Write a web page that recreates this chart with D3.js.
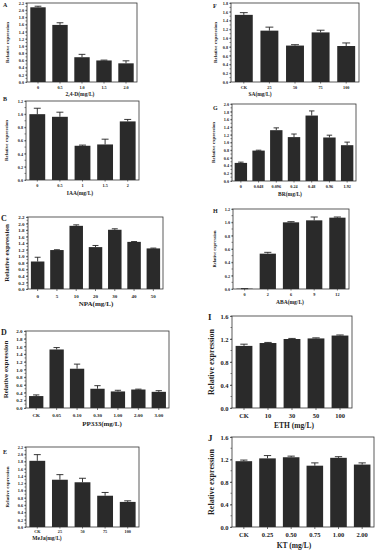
<!DOCTYPE html>
<html>
<head>
<meta charset="utf-8">
<script src="https://cdn.jsdelivr.net/npm/d3@7"></script>
<style>
  body { margin: 0; background: #fff; }
  svg { display: block; }
  text { font-family: "Liberation Serif", "DejaVu Serif", serif; font-weight: bold; fill: #222; }
</style>
</head>
<body>
<div id="chart"></div>
<script>
// values (relative expression, mean and upper error)
var aCats = ["0", "0.5", "1.0", "1.5", "2.0"];
var aVals = [2.08, 1.59, 0.69, 0.60, 0.52];
var aErr  = [0.03, 0.06, 0.08, 0.01, 0.07];

var bCats = ["0", "0.5", "1", "1.5", "2"];
var bVals = [1.00, 0.96, 0.52, 0.54, 0.89];
var bErr  = [0.09, 0.07, 0.01, 0.08, 0.03];

var cCats = ["0", "5", "10", "20", "30", "40", "50"];
var cVals = [0.84, 1.19, 1.93, 1.28, 1.81, 1.44, 1.24];
var cErr  = [0.13, 0.01, 0.03, 0.05, 0.03, 0.01, 0.01];

var dCats = ["CK", "0.05", "0.10", "0.30", "1.00", "2.00", "3.00"];
var dVals = [0.31, 1.52, 1.02, 0.50, 0.43, 0.48, 0.42];
var dErr  = [0.03, 0.05, 0.12, 0.08, 0.03, 0.01, 0.03];

var eCats = ["CK", "25", "50", "75", "100"];
var eVals = [1.82, 1.30, 1.23, 0.86, 0.69];
var eErr  = [0.17, 0.14, 0.11, 0.09, 0.03];

var fCats = ["CK", "25", "50", "75", "100"];
var fVals = [1.53, 1.17, 0.83, 1.13, 0.82];
var fErr  = [0.05, 0.08, 0.02, 0.05, 0.07];

var gCats = ["0", "0.048", "0.096", "0.24", "0.48", "0.96", "1.92"];
var gVals = [0.47, 0.79, 1.32, 1.14, 1.70, 1.13, 0.93];
var gErr  = [0.02, 0.01, 0.06, 0.08, 0.12, 0.06, 0.08];

var hCats = ["0", "2", "6", "9", "12"];
var hVals = [0.005, 0.53, 1.00, 1.03, 1.07];
var hErr  = [0.00, 0.02, 0.01, 0.05, 0.01];

var iCats = ["CK", "10", "30", "50", "100"];
var iVals = [1.08, 1.13, 1.20, 1.21, 1.26];
var iErr  = [0.03, 0.01, 0.01, 0.01, 0.01];

var jCats = ["CK", "0.25", "0.50", "0.75", "1.00", "2.00"];
var jVals = [1.17, 1.22, 1.24, 1.09, 1.23, 1.11];
var jErr  = [0.02, 0.05, 0.02, 0.05, 0.02, 0.03];

var svg = d3.select("#chart").append("svg")
              .attr("width", 378)
              .attr("height", 550);

function drawPanel(p) {
  var g = svg.append("g");

  var x = d3.scaleBand()
            .domain(p.cats)
            .range([p.x0, p.x1])
            .paddingInner(0.3)
            .paddingOuter(0.15);

  var y = d3.scaleLinear()
            .domain([0, p.yMax])
            .range([p.y1, p.y0]);

  // frame
  g.append("rect")
    .attr("x", p.x0)
    .attr("y", p.y0)
    .attr("width", p.x1 - p.x0)
    .attr("height", p.y1 - p.y0)
    .attr("fill", "none")
    .attr("stroke", "#333")
    .attr("stroke-width", 0.8);

  // minor y ticks
  var minor = d3.range(0, p.yMax + 1e-9, p.yStep / 2);
  g.selectAll(".minor").data(minor).enter().append("line")
    .attr("x1", p.x0 - 1.5).attr("x2", p.x0)
    .attr("y1", function(d) { return y(d); })
    .attr("y2", function(d) { return y(d); })
    .attr("stroke", "#333").attr("stroke-width", 0.6);

  var yAxis = d3.axisLeft(y)
                .tickValues(d3.range(0, p.yMax + 1e-9, p.yStep))
                .tickFormat(d3.format(".1f"))
                .tickSize(p.tick)
                .tickPadding(1.5);
  var ya = g.append("g").attr("transform", "translate(" + p.x0 + ",0)").call(yAxis);
  ya.select(".domain").remove();
  ya.selectAll("line").attr("stroke", "#333").attr("stroke-width", 0.7);
  ya.selectAll("text").attr("font-size", p.fs + "px").attr("font-family", null).attr("fill", "#222");

  var xAxis = d3.axisBottom(x).tickSize(p.tick).tickPadding(p.xPad);
  var xa = g.append("g").attr("transform", "translate(0," + p.y1 + ")").call(xAxis);
  xa.select(".domain").remove();
  xa.selectAll("line").attr("stroke", "#333").attr("stroke-width", 0.7);
  xa.selectAll("text").attr("font-size", p.fs + "px").attr("font-family", null).attr("fill", "#222");

  // bars
  var rows = p.cats.map(function(c, i) { return { c: c, v: p.vals[i], e: p.err[i] }; });
  g.selectAll(".bar").data(rows).enter().append("rect")
    .attr("x", function(d) { return x(d.c); })
    .attr("y", function(d) { return y(d.v); })
    .attr("width", x.bandwidth())
    .attr("height", function(d) { return y(0) - y(d.v); })
    .attr("fill", "#2a2a2a");

  // error bars (upper half only)
  var cap = x.bandwidth() * 0.22;
  g.selectAll(".err").data(rows).enter().append("path")
    .attr("d", function(d) {
      var cx = x(d.c) + x.bandwidth() / 2;
      var top = y(d.v + d.e);
      return "M" + cx + "," + y(d.v) + "V" + top + "M" + (cx - cap) + "," + top + "H" + (cx + cap);
    })
    .attr("fill", "none")
    .attr("stroke", "#222")
    .attr("stroke-width", 0.9);

  // panel letter
  g.append("text")
    .attr("x", p.lx).attr("y", p.ly)
    .attr("font-size", p.lfs + "px")
    .text(p.letter);

  // y title
  g.append("text")
    .attr("transform", "translate(" + p.yTx + "," + ((p.y0 + p.y1) / 2) + ") rotate(-90)")
    .attr("text-anchor", "middle")
    .attr("font-size", p.yfs + "px")
    .text("Relative expression");

  // x title
  g.append("text")
    .attr("x", p.xTx).attr("y", p.xTy)
    .attr("text-anchor", "middle")
    .attr("font-size", p.tfs + "px")
    .text(p.title);
}

drawPanel({ letter: "A", cats: aCats, vals: aVals, err: aErr, title: "2,4-D(mg/L)",
  x0: 27, x1: 137, y0: 3, y1: 82, yMax: 2.2, yStep: 0.2, tick: 1.5, xPad: 2.5,
  fs: 4.2, yfs: 5, tfs: 5.5, lfs: 6, lx: 3, ly: 7, yTx: 9, xTx: 80, xTy: 96 });

drawPanel({ letter: "B", cats: bCats, vals: bVals, err: bErr, title: "IAA(mg/L)",
  x0: 26, x1: 139, y0: 101, y1: 180, yMax: 1.2, yStep: 0.2, tick: 1.5, xPad: 2.5,
  fs: 4.2, yfs: 5, tfs: 5.5, lfs: 6, lx: 3, ly: 101, yTx: 8, xTx: 80, xTy: 195 });

drawPanel({ letter: "C", cats: cCats, vals: cVals, err: cErr, title: "NPA(mg/L)",
  x0: 28, x1: 163, y0: 217, y1: 289, yMax: 2.2, yStep: 0.2, tick: 2, xPad: 3,
  fs: 5, yfs: 7, tfs: 7, lfs: 8, lx: 1, ly: 221, yTx: 9, xTx: 96, xTy: 306 });

drawPanel({ letter: "D", cats: dCats, vals: dVals, err: dErr, title: "PP333(mg/L)",
  x0: 26, x1: 169, y0: 331, y1: 408, yMax: 2.0, yStep: 0.2, tick: 2, xPad: 3,
  fs: 5, yfs: 7, tfs: 7, lfs: 8, lx: 1, ly: 335, yTx: 8, xTx: 102, xTy: 426 });

drawPanel({ letter: "E", cats: eCats, vals: eVals, err: eErr, title: "MeJa(mg/L)",
  x0: 26, x1: 139, y0: 447, y1: 527, yMax: 2.2, yStep: 0.2, tick: 1.5, xPad: 2,
  fs: 4.2, yfs: 5, tfs: 5.5, lfs: 6, lx: 3, ly: 454, yTx: 9, xTx: 47, xTy: 540 });

drawPanel({ letter: "F", cats: fCats, vals: fVals, err: fErr, title: "SA(mg/L)",
  x0: 231, x1: 359, y0: 3, y1: 82, yMax: 1.8, yStep: 0.2, tick: 1.5, xPad: 2.5,
  fs: 4.2, yfs: 5, tfs: 5.5, lfs: 6, lx: 213, ly: 8, yTx: 217, xTx: 260, xTy: 96 });

drawPanel({ letter: "G", cats: gCats, vals: gVals, err: gErr, title: "BR(mg/L)",
  x0: 232, x1: 356, y0: 104, y1: 181, yMax: 2.0, yStep: 0.2, tick: 1.5, xPad: 2.5,
  fs: 4.2, yfs: 5, tfs: 5.5, lfs: 6, lx: 213, ly: 110, yTx: 215, xTx: 290, xTy: 196 });

drawPanel({ letter: "H", cats: hCats, vals: hVals, err: hErr, title: "ABA(mg/L)",
  x0: 233, x1: 349, y0: 209, y1: 289, yMax: 1.2, yStep: 0.2, tick: 1.5, xPad: 2.5,
  fs: 4.2, yfs: 4.5, tfs: 5.5, lfs: 6, lx: 213, ly: 213, yTx: 216, xTx: 290, xTy: 304 });

drawPanel({ letter: "I", cats: iCats, vals: iVals, err: iErr, title: "ETH (mg/L)",
  x0: 232, x1: 352, y0: 316, y1: 408, yMax: 1.6, yStep: 0.4, tick: 2, xPad: 3.5,
  fs: 6.5, yfs: 8, tfs: 7.5, lfs: 9, lx: 208, ly: 320, yTx: 214, xTx: 294, xTy: 428 });

drawPanel({ letter: "J", cats: jCats, vals: jVals, err: jErr, title: "KT (mg/L)",
  x0: 232, x1: 374, y0: 437, y1: 527, yMax: 1.6, yStep: 0.4, tick: 2, xPad: 3.5,
  fs: 6.5, yfs: 8, tfs: 7.5, lfs: 9, lx: 208, ly: 441, yTx: 214, xTx: 294, xTy: 548 });
</script>
</body>
</html>
